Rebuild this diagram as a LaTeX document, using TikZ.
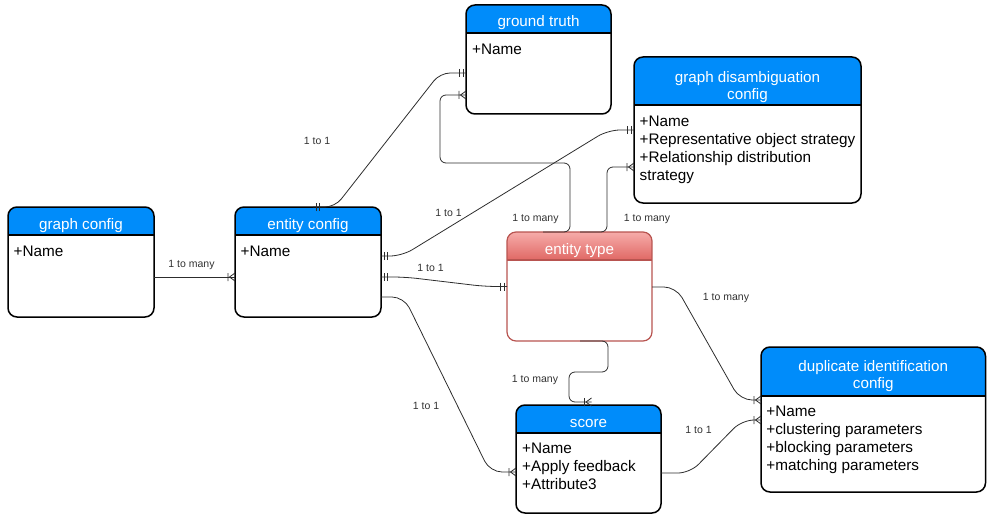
\documentclass[tikz,border=0pt]{standalone}
\usepackage{fontspec}
\setmainfont{Liberation Sans}
\usetikzlibrary{calc,fit}

\definecolor{hdrblue}{RGB}{0,140,250}
\definecolor{redtop}{RGB}{246,172,170}
\definecolor{redbottom}{RGB}{224,104,100}
\definecolor{rededge}{RGB}{184,84,80}
\definecolor{wire}{RGB}{45,45,45}
\definecolor{labelgray}{RGB}{50,50,50}

% ER notation: mandatory one (two bars)
\pgfdeclarearrow{
  name = ERone,
  setup code = {
    \pgfarrowssettipend{0pt}
    \pgfarrowssetlineend{0pt}
    \pgfarrowssetbackend{-8pt}
    \pgfarrowssetvisualbackend{-8pt}
    \pgfarrowshullpoint{0pt}{4pt}
    \pgfarrowshullpoint{0pt}{-4pt}
    \pgfarrowshullpoint{-8pt}{4pt}
    \pgfarrowshullpoint{-8pt}{-4pt}
  },
  drawing code = {
    \pgfsetdash{}{0pt}
    \pgfpathmoveto{\pgfqpoint{-3pt}{4pt}}
    \pgfpathlineto{\pgfqpoint{-3pt}{-4pt}}
    \pgfpathmoveto{\pgfqpoint{-6.5pt}{4pt}}
    \pgfpathlineto{\pgfqpoint{-6.5pt}{-4pt}}
    \pgfusepathqstroke
  },
  defaults = {}
}
% ER notation: one to many (bar and crow's foot)
\pgfdeclarearrow{
  name = ERmany,
  setup code = {
    \pgfarrowssettipend{0pt}
    \pgfarrowssetlineend{0pt}
    \pgfarrowssetbackend{-8pt}
    \pgfarrowssetvisualbackend{-8pt}
    \pgfarrowshullpoint{0pt}{4pt}
    \pgfarrowshullpoint{0pt}{-4pt}
    \pgfarrowshullpoint{-8pt}{4pt}
    \pgfarrowshullpoint{-8pt}{-4pt}
  },
  drawing code = {
    \pgfsetdash{}{0pt}
    \pgfpathmoveto{\pgfqpoint{0pt}{4pt}}
    \pgfpathlineto{\pgfqpoint{-5.5pt}{0pt}}
    \pgfpathlineto{\pgfqpoint{0pt}{-4pt}}
    \pgfpathmoveto{\pgfqpoint{-7pt}{4pt}}
    \pgfpathlineto{\pgfqpoint{-7pt}{-4pt}}
    \pgfusepathqstroke
  },
  defaults = {}
}

% entity box: name, x1, y1, x2, y2, header bottom, kind (blue / red)
\newcommand\erentity[7]{%
  \node[fit={(#2,#3) (#4,#5)}, inner sep=0pt, outer sep=0pt] (#1) {};
  \begin{scope}
    \clip[rounded corners=9pt] (#2,#3) rectangle (#4,#5);
    \fill[white] (#2,#3) rectangle (#4,#5);
    \fill[#7 head] (#2,#3) rectangle (#4,#6);
  \end{scope}
  \draw[#7 edge] (#2,#6) -- (#4,#6);
  \draw[#7 edge, rounded corners=9pt] (#1.north west) rectangle (#1.south east);
}

\begin{document}
\begin{tikzpicture}[x=1pt, y=-1pt,
  blue head/.style={fill=hdrblue},
  blue edge/.style={draw=black, line width=1.5pt},
  red head/.style={top color=redtop, bottom color=redbottom},
  red edge/.style={draw=rededge, line width=1.2pt},
  hdr text/.style={text=white, font=\fontsize{15.2}{17}\selectfont, align=center, inner sep=0pt},
  body text/.style={font=\fontsize{15.3}{18.3}\selectfont, align=left, anchor=north west, inner sep=0pt},
  rel label/.style={font=\fontsize{10.5}{12}\selectfont, text=labelgray, anchor=base, inner sep=0pt},
  link/.style={draw=wire, line width=0.8pt, rounded corners=12pt},
  elbow/.style={draw=wire, line width=0.8pt, rounded corners=6pt}]

\useasboundingbox (0,0) rectangle (987,516);

% entities
\erentity{gc}{8}{207}{154}{317}{235}{blue}
\erentity{ec}{235}{207}{381}{317}{235}{blue}
\erentity{gt}{466}{5}{611}{114}{33}{blue}
\erentity{gdc}{634}{57}{861}{203}{105}{blue}
\erentity{et}{507}{232}{652}{341}{260}{red}
\erentity{sc}{516}{405}{661}{513}{433}{blue}
\erentity{dic}{761}{347}{985.5}{492}{396}{blue}

% titles
\node[hdr text, anchor=base] (gc-t) at ($(gc.north)+(0,22.5)$) {graph config};
\node[hdr text, anchor=base] (ec-t) at ($(ec.north)+(0,22.5)$) {entity config};
\node[hdr text, anchor=base] (gt-t) at ($(gt.north)+(0,22)$) {ground truth};
\node[hdr text] (gdc-t) at ($(gdc.north)+(0,30)$) {graph disambiguation\\config};
\node[hdr text, anchor=base] (et-t) at ($(et.north)+(0,22)$) {entity type};
\node[hdr text, anchor=base] (sc-t) at ($(sc.north)+(0,22)$) {score};
\node[hdr text] (dic-t) at ($(dic.north)+(0,28.8)$) {duplicate identification\\config};

% attributes
\node[body text] (gc-b) at ($(gc.north west)+(5.5,38.5)$) {+Name};
\node[body text] (ec-b) at ($(ec.north west)+(5.5,39)$) {+Name};
\node[body text] (gt-b) at ($(gt.north west)+(6,38.3)$) {+Name};
\node[body text] (gdc-b) at ($(gdc.north west)+(5.5,58.3)$)
  {+Name\\+Representative object strategy\\+Relationship distribution\\strategy};
\node[body text] (sc-b) at ($(sc.north west)+(6,37.3)$)
  {+Name\\+Apply feedback\\+Attribute3};
\node[body text] (dic-b) at ($(dic.north west)+(5.2,58.3)$)
  {+Name\\+clustering parameters\\+blocking parameters\\+matching parameters};

% relationships
\draw[link, -ERmany] ($(gc.east)+(0,15)$) -- ($(ec.west)+(0,15)$);
\draw[link, ERone-ERone, rounded corners=10pt] ($(ec.north)+(5,0)$) -- (335,207) -- (440,73) -- ($(gt.west)+(0,13.5)$);
\draw[link, ERone-ERone] ($(ec.east)+(0,-6)$) -- (402,256) -- (608,130) -- (gdc.west);
\draw[link, ERone-ERone] ($(ec.east)+(0,15)$) -- (405,277) -- (485,286.5) -- (et.west);
\draw[link, -ERmany] ($(ec.east)+(0,35)$) -- (404,297) -- (490,472) -- ($(sc.west)+(0,13)$);
\draw[elbow, -ERmany] ($(et.north)+(-36.5,0)$) -- (570,232) -- (570,163) -- (440,163) -- (440,95) -- ($(gt.west)+(0,35.5)$);
\draw[elbow, -ERmany] ($(et.north)+(0.5,0)$) -- (607,232) -- (607,167) -- ($(gdc.west)+(0,37)$);
\draw[link, -ERmany] ($(et.east)+(0,0.5)$) -- (676,287) -- (740,400) -- ($(dic.west)+(0,-19.5)$);
\draw[elbow, -ERmany] ($(et.south)+(0.5,0)$) -- (608,341) -- (608,372) -- (569,372) -- (569,402) -- ($(sc.north)+(3,-3)$);
\draw[link, -ERmany] ($(sc.east)+(0,14)$) -- (690,473) -- (742,420) -- ($(dic.west)+(0,0.5)$);

% cardinality labels
\node[rel label] (l1) at (191.5,267) {1 to many};
\node[rel label] (l2) at (317,144) {1 to 1};
\node[rel label] (l3) at (448.5,216) {1 to 1};
\node[rel label] (l4) at (430.5,271.5) {1 to 1};
\node[rel label] (l5) at (535.5,221.7) {1 to many};
\node[rel label] (l6) at (647,221.7) {1 to many};
\node[rel label] (l7) at (726,300.7) {1 to many};
\node[rel label] (l8) at (535,382.7) {1 to many};
\node[rel label] (l9) at (426,409.3) {1 to 1};
\node[rel label] (l10) at (698.5,433.3) {1 to 1};

\end{tikzpicture}
\end{document}
